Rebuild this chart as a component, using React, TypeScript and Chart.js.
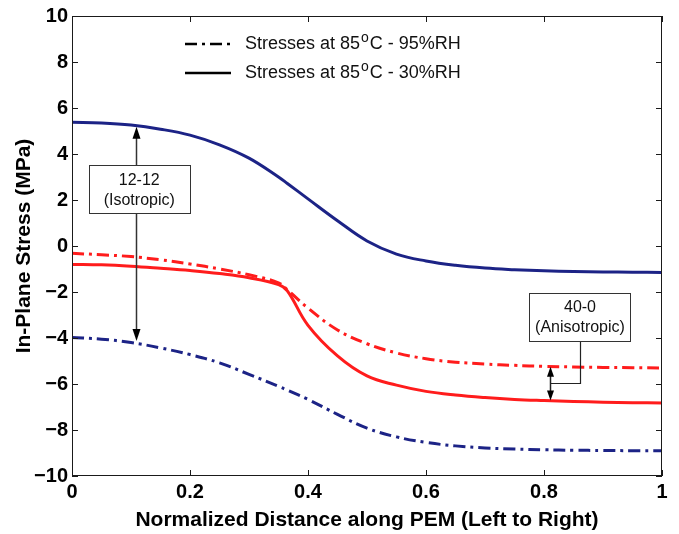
import { useEffect, useRef } from 'react';
import { Chart, registerables } from 'chart.js';

Chart.register(...registerables);

// ---- data ----
const distance = [0, 0.05, 0.1, 0.15, 0.2, 0.25, 0.3, 0.35, 0.365, 0.4, 0.45, 0.5, 0.55, 0.6, 0.65, 0.7, 0.75, 0.8, 0.85, 0.9, 0.95, 1];
// 12-12 (Isotropic), 85°C - 30%RH (solid blue)
const iso30 = [5.38, 5.35, 5.26, 5.08, 4.82, 4.4, 3.82, 3.0, 2.72, 2.05, 1.1, 0.22, -0.35, -0.65, -0.84, -0.96, -1.03, -1.08, -1.11, -1.13, -1.14, -1.15];
// 12-12 (Isotropic), 85°C - 95%RH (dash-dot blue)
const iso95 = [-3.98, -4.05, -4.2, -4.43, -4.72, -5.08, -5.58, -6.1, -6.27, -6.67, -7.32, -7.92, -8.3, -8.54, -8.69, -8.78, -8.83, -8.86, -8.88, -8.89, -8.9, -8.9];
// 40-0 (Anisotropic), 85°C - 30%RH (solid red)
const aniso30 = [-0.8, -0.82, -0.88, -0.97, -1.07, -1.2, -1.38, -1.68, -1.95, -3.45, -4.78, -5.65, -6.05, -6.32, -6.48, -6.59, -6.67, -6.72, -6.76, -6.79, -6.81, -6.83];
// 40-0 (Anisotropic), 85°C - 95%RH (dash-dot red)
const aniso95 = [-0.32, -0.38, -0.46, -0.6, -0.78, -1.0, -1.25, -1.6, -1.9, -2.7, -3.65, -4.25, -4.65, -4.9, -5.05, -5.13, -5.19, -5.23, -5.26, -5.28, -5.29, -5.3];

const xTicks = [0, 0.2, 0.4, 0.6, 0.8, 1];
const yTicks = [-10, -8, -6, -4, -2, 0, 2, 4, 6, 8, 10];
const xTitle = 'Normalized Distance along PEM (Left to Right)';
const yTitle = 'In-Plane Stress (MPa)';
const legendTexts = ['Stresses at 85°C - 95%RH', 'Stresses at 85°C - 30%RH'];
const isoLabel = ['12-12', '(Isotropic)'];
const anisoLabel = ['40-0', '(Anisotropic)'];

// annotation anchors in data units
const isoArrow = { x: 0.108, top: 5.18, bottom: -4.13 };
const isoBox = { x: 0.114, y: 2.46 };
const anisoArrow = { x: 0.81, top: -5.25, bottom: -6.72, elbowY: -5.94 };
const anisoBox = { x: 0.861, y: -3.09 };

const FONT = '"Liberation Sans", Arial, Helvetica, sans-serif';
const BLUE = '#1c2386';
const RED = '#ff1c1c';
const DASHDOT = [12, 5, 3, 5];

function drawArrowHead(ctx: CanvasRenderingContext2D, x: number, y: number, dir: number, len: number, half: number) {
  ctx.beginPath();
  ctx.moveTo(x, y);
  ctx.lineTo(x - half, y - dir * len);
  ctx.lineTo(x + half, y - dir * len);
  ctx.closePath();
  ctx.fill();
}

function drawBox(ctx: CanvasRenderingContext2D, cx: number, cy: number, lines: string[]) {
  const w = 101, h = 48;
  const l = Math.round(cx - w / 2) + 0.5;
  const t = Math.round(cy - h / 2) + 0.5;
  ctx.setLineDash([]);
  ctx.fillStyle = '#fff';
  ctx.fillRect(l, t, w, h);
  ctx.strokeStyle = '#333';
  ctx.lineWidth = 1;
  ctx.strokeRect(l, t, w, h);
  ctx.fillStyle = '#111';
  ctx.font = `16px ${FONT}`;
  ctx.textAlign = 'center';
  ctx.textBaseline = 'middle';
  ctx.fillText(lines[0], cx, cy - 9);
  ctx.fillText(lines[1], cx, cy + 11);
}

const overlay = {
  id: 'overlay',
  afterDatasetsDraw(chart: any) {
    const { ctx, chartArea: a, scales } = chart;
    const sx = scales.x, sy = scales.y;
    ctx.save();

    // frame
    ctx.setLineDash([]);
    ctx.strokeStyle = '#1a1a1a';
    ctx.lineWidth = 1;
    ctx.strokeRect(Math.round(a.left) + 0.5, Math.round(a.top) + 0.5, Math.round(a.right - a.left) - 1, Math.round(a.bottom - a.top) - 1);

    // inward ticks on all four sides
    const tl = 6;
    ctx.beginPath();
    xTicks.forEach((v) => {
      const px = Math.round(sx.getPixelForValue(v)) + 0.5;
      ctx.moveTo(px, a.bottom);
      ctx.lineTo(px, a.bottom - tl);
      ctx.moveTo(px, a.top);
      ctx.lineTo(px, a.top + tl);
    });
    yTicks.forEach((v) => {
      const py = Math.round(sy.getPixelForValue(v)) + 0.5;
      ctx.moveTo(a.left, py);
      ctx.lineTo(a.left + tl, py);
      ctx.moveTo(a.right, py);
      ctx.lineTo(a.right - tl, py);
    });
    ctx.stroke();

    // legend
    const lx0 = a.left + 113, lx1 = a.left + 159, tx = a.left + 173;
    const rows = [a.top + 28, a.top + 57];
    legendTexts.forEach((txt, i) => {
      const y = rows[i];
      ctx.strokeStyle = '#000';
      ctx.lineWidth = 2.5;
      ctx.setLineDash(i === 0 ? [12, 5, 3, 5] : []);
      ctx.beginPath();
      ctx.moveTo(lx0, y);
      ctx.lineTo(lx1, y);
      ctx.stroke();
      ctx.setLineDash([]);
      const [pre, post] = txt.split('°');
      ctx.fillStyle = '#111';
      ctx.textAlign = 'left';
      ctx.textBaseline = 'middle';
      ctx.font = `18px ${FONT}`;
      ctx.fillText(pre, tx, y);
      let x = tx + ctx.measureText(pre).width + 1;
      ctx.font = `14px ${FONT}`;
      ctx.fillText('o', x, y - 6);
      x += ctx.measureText('o').width + 1;
      ctx.font = `18px ${FONT}`;
      ctx.fillText(post, x, y);
    });

    // isotropic annotation
    ctx.strokeStyle = '#333';
    ctx.fillStyle = '#000';
    ctx.lineWidth = 1.5;
    const ax = Math.round(sx.getPixelForValue(isoArrow.x)) + 0.5;
    const aTop = sy.getPixelForValue(isoArrow.top);
    const aBot = sy.getPixelForValue(isoArrow.bottom);
    ctx.beginPath();
    ctx.moveTo(ax, aTop + 10);
    ctx.lineTo(ax, aBot - 10);
    ctx.stroke();
    drawArrowHead(ctx, ax, aTop, -1, 12, 4);
    drawArrowHead(ctx, ax, aBot, 1, 12, 4);
    drawBox(ctx, sx.getPixelForValue(isoBox.x), sy.getPixelForValue(isoBox.y), isoLabel);

    // anisotropic annotation
    const bx = Math.round(sx.getPixelForValue(anisoArrow.x)) + 0.5;
    const bTop = sy.getPixelForValue(anisoArrow.top);
    const bBot = sy.getPixelForValue(anisoArrow.bottom);
    const elbowY = Math.round(sy.getPixelForValue(anisoArrow.elbowY)) + 0.5;
    const boxCx = sx.getPixelForValue(anisoBox.x);
    const boxCy = sy.getPixelForValue(anisoBox.y);
    const cx = Math.round(boxCx) + 0.5;
    ctx.strokeStyle = '#222';
    ctx.lineWidth = 1.2;
    ctx.beginPath();
    ctx.moveTo(cx, boxCy + 24);
    ctx.lineTo(cx, elbowY);
    ctx.lineTo(bx, elbowY);
    ctx.stroke();
    ctx.lineWidth = 1.5;
    ctx.beginPath();
    ctx.moveTo(bx, bTop + 8);
    ctx.lineTo(bx, bBot - 8);
    ctx.stroke();
    ctx.fillStyle = '#000';
    drawArrowHead(ctx, bx, bTop, -1, 10, 3.5);
    drawArrowHead(ctx, bx, bBot, 1, 10, 3.5);
    drawBox(ctx, boxCx, boxCy, anisoLabel);

    ctx.restore();
  },
};

const minus = (v: number) => String(v).replace('-', '\u2212');

export default function App() {
  const ref = useRef<HTMLCanvasElement | null>(null);

  useEffect(() => {
    document.body.style.margin = '0';
    const canvas = ref.current;
    if (!canvas) return;
    const mk = (ys: number[]) => distance.map((x, i) => ({ x, y: ys[i] }));
    const common = { pointRadius: 0, borderWidth: 3, fill: false, tension: 0.4, borderCapStyle: 'butt' as const };
    const chart = new Chart(canvas, {
      type: 'line',
      data: {
        datasets: [
          { label: '12-12 85°C - 30%RH', data: mk(iso30), borderColor: BLUE, ...common },
          { label: '12-12 85°C - 95%RH', data: mk(iso95), borderColor: BLUE, borderDash: DASHDOT, ...common },
          { label: '40-0 85°C - 95%RH', data: mk(aniso95), borderColor: RED, borderDash: DASHDOT, ...common },
          { label: '40-0 85°C - 30%RH', data: mk(aniso30), borderColor: RED, ...common },
        ],
      },
      options: {
        responsive: false,
        animation: false,
        devicePixelRatio: 1,
        layout: { padding: { top: 13, right: 17, left: 0, bottom: 0 } },
        plugins: { legend: { display: false }, tooltip: { enabled: false } },
        scales: {
          x: {
            type: 'linear',
            min: 0,
            max: 1,
            afterBuildTicks: (s: any) => { s.ticks = xTicks.map((value) => ({ value })); },
            afterFit: (s: any) => { s.height = 58; },
            grid: { display: false, drawTicks: false },
            border: { display: false },
            ticks: {
              autoSkip: false,
              maxRotation: 0,
              padding: 4,
              color: '#000',
              font: { family: FONT, size: 20, weight: 'bold' },
              callback: (v: any) => String(Number(Number(v).toFixed(1))),
            },
            title: {
              display: true,
              text: xTitle,
              color: '#000',
              font: { family: FONT, size: 21, weight: 'bold' },
              padding: { top: 0, bottom: 1 },
            },
          },
          y: {
            type: 'linear',
            min: -10,
            max: 10,
            afterBuildTicks: (s: any) => { s.ticks = yTicks.map((value) => ({ value })); },
            afterFit: (s: any) => { s.width = 72; },
            grid: { display: false, drawTicks: false },
            border: { display: false },
            ticks: {
              autoSkip: false,
              padding: 4,
              color: '#000',
              font: { family: FONT, size: 20, weight: 'bold' },
              callback: (v: any) => minus(Number(v)),
            },
            title: {
              display: true,
              text: yTitle,
              color: '#000',
              font: { family: FONT, size: 21, weight: 'bold' },
              padding: { top: 12, bottom: 0 },
            },
          },
        },
      },
      plugins: [overlay],
    } as any);
    return () => chart.destroy();
  }, []);

  return (
    <div style={{ width: 679, height: 534, background: '#fff' }}>
      <canvas ref={ref} width={679} height={534} style={{ display: 'block' }} />
    </div>
  );
}
